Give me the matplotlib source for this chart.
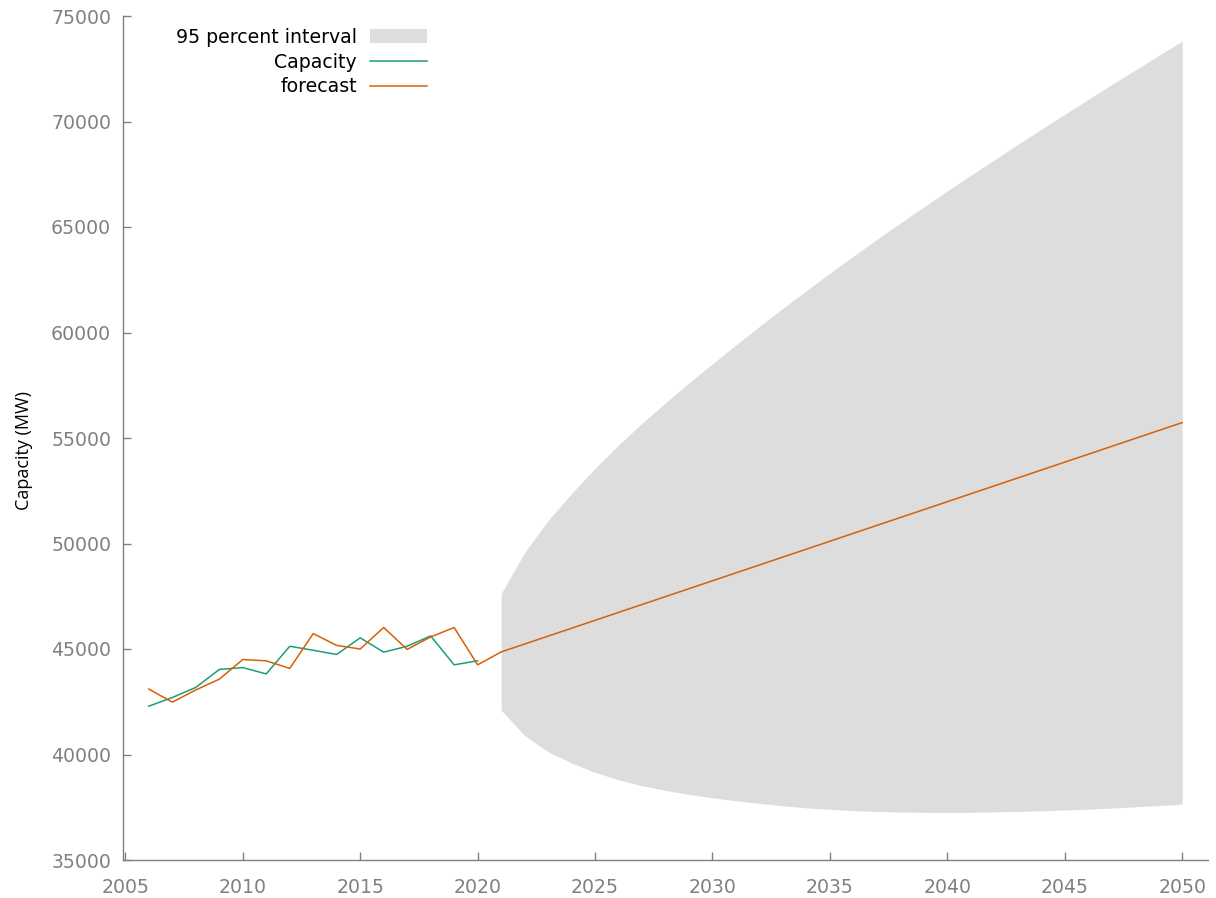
import matplotlib
matplotlib.use("Agg")
import matplotlib.pyplot as plt
from matplotlib.patches import Patch
from matplotlib.lines import Line2D

plt.rcParams['font.family'] = ['DejaVu Sans']

# observed installed capacity (MW)
years_obs = list(range(2006, 2021))
capacity = [42290, 42700, 43180, 44030, 44120, 43820, 45130, 44940, 44740,
            45530, 44850, 45130, 45620, 44250, 44440]

# in-sample fit followed by the projection
years_fc = list(range(2006, 2051))
forecast = [43100, 42480, 43060, 43570, 44500, 44440, 44080, 45730, 45170,
            45000, 46020, 44980, 45570, 46020, 44250,
            44860, 45235, 45610, 45984, 46359, 46734, 47109, 47484, 47858, 48233,
            48608, 48983, 49358, 49732, 50107, 50482, 50857, 51232, 51606, 51981,
            52356, 52731, 53106, 53480, 53855, 54230, 54605, 54980, 55354, 55729]

# 95 percent prediction interval
years_ci = list(range(2021, 2051))
ci_lower = [42100, 40900, 40130, 39600, 39150, 38800, 38520, 38300, 38110, 37950,
            37810, 37680, 37570, 37470, 37400, 37340, 37300, 37275, 37260, 37255,
            37260, 37280, 37300, 37330, 37370, 37410, 37460, 37520, 37580, 37650]
ci_upper = [47620, 49570, 51090, 52370, 53570, 54670, 55700, 56670, 57610, 58520,
            59410, 60290, 61150, 61990, 62810, 63620, 64410, 65190, 65950, 66710,
            67450, 68180, 68910, 69630, 70340, 71050, 71750, 72440, 73130, 73810]

GREEN = '#1b9e77'
ORANGE = '#d95f02'
BAND = '#dddddd'
AXIS = '#808080'

fig = plt.figure(figsize=(12.16, 8.98), dpi=100)
ax = fig.add_axes([123 / 1216, 1 - 860 / 898, (1208 - 123) / 1216, (860 - 16) / 898])

ax.fill_between(years_ci, ci_lower, ci_upper, color=BAND, linewidth=0)
ax.plot(years_obs, capacity, color=GREEN, lw=1.1)
ax.plot(years_fc, forecast, color=ORANGE, lw=1.1)

ax.set_xlim(2004.9, 2051.1)
ax.set_ylim(35000, 75000)
ax.set_xticks(range(2005, 2051, 5))
ax.set_yticks(range(35000, 75001, 5000))

for side in ['top', 'right']:
    ax.spines[side].set_visible(False)
for side in ['left', 'bottom']:
    ax.spines[side].set_color(AXIS)
    ax.spines[side].set_linewidth(1.0)
ax.tick_params(direction='in', length=6, width=1.0, color=AXIS,
               labelcolor=AXIS, labelsize=13.6)
ax.tick_params(axis='y', pad=8.5)
ax.tick_params(axis='x', pad=13)

ax.set_ylabel('Capacity (MW)', fontsize=13, family=['Open Sans', 'DejaVu Sans'],
              color='black')
ax.yaxis.set_label_coords(-90 / 1085, (860 - 450) / 844)

handles = [Patch(facecolor=BAND, edgecolor='none'),
           Line2D([], [], color=GREEN, lw=1.1),
           Line2D([], [], color=ORANGE, lw=1.1)]
labels = ['95 percent interval', 'Capacity', 'forecast']
fig.legend(handles, labels, loc='upper right', bbox_to_anchor=(427 / 1216, 1 - 28 / 898),
           markerfirst=False, frameon=False, fontsize=13.6, handlelength=3.0,
           handleheight=0.75, handletextpad=0.7, labelspacing=0.3,
           borderpad=0, borderaxespad=0)

fig.savefig('out.png', dpi=100)
